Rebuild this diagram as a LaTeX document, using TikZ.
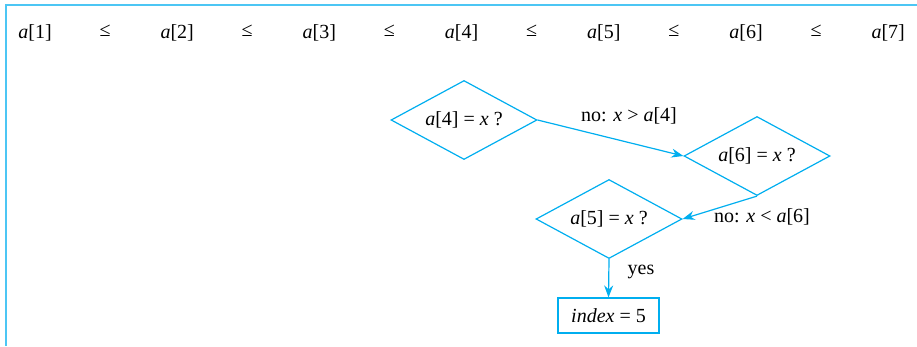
\documentclass[tikz,border=0pt]{standalone}
\usepackage{fontspec}
\setmainfont{Liberation Serif}
\usepackage{xcolor}
\usetikzlibrary{arrows.meta}
\usetikzlibrary{shapes.geometric}

\definecolor{flowcyan}{RGB}{0,174,239}
\newcommand{\vi}[1]{\textit{#1}}

\begin{document}
\begin{tikzpicture}[x=1pt,y=-1pt,font=\fontsize{20}{24}\selectfont,
    test/.style={diamond,draw=flowcyan,line width=1.2pt,inner sep=0pt,aspect=1.8,
        minimum width=146pt,minimum height=79pt},
    result/.style={rectangle,draw=flowcyan,line width=1.2pt,minimum width=101pt,minimum height=35pt},
    flow/.style={draw=flowcyan,line width=1.2pt,-{Stealth[length=12pt,width=9pt]}}]
        \useasboundingbox (0,0) rectangle (917,346);
        % frame
        \draw[flowcyan!70,line width=2pt] (917,5) -- (6,5) -- (6,346);
        % ordered array
        \foreach \i in {1,...,7}{
            \node (elem\i) at ({35+142.2*(\i-1)},33) {\vi{a}[\i]};
        }
        \foreach \i in {1,...,6}{
            \node (le\i) at ({105+142.2*(\i-1)},31) {≤};
        }
        % search steps
        \node[test] (t4) at (464,120) {\vi{a}[4] = \vi{x} ?};
        \node[test] (t6) at (757,156) {\vi{a}[6] = \vi{x} ?};
        \node[test] (t5) at (609,219) {\vi{a}[5] = \vi{x} ?};
        \node[result] (found) at (608.5,315.5) {\vi{index} = 5};
        \draw[flow] (t4.east) -- (t6.west);
        \draw[flow] (t6.south) -- (t5.east);
        \draw[flow] (t5.south) -- (found.north);
        \node (lbl46) at (629,116) {no: \vi{x} > \vi{a}[4]};
        \node (lbl65) at (762,217) {no: \vi{x} < \vi{a}[6]};
        \node (lblyes) at (641,272) {yes};
    \end{tikzpicture}
\end{document}
